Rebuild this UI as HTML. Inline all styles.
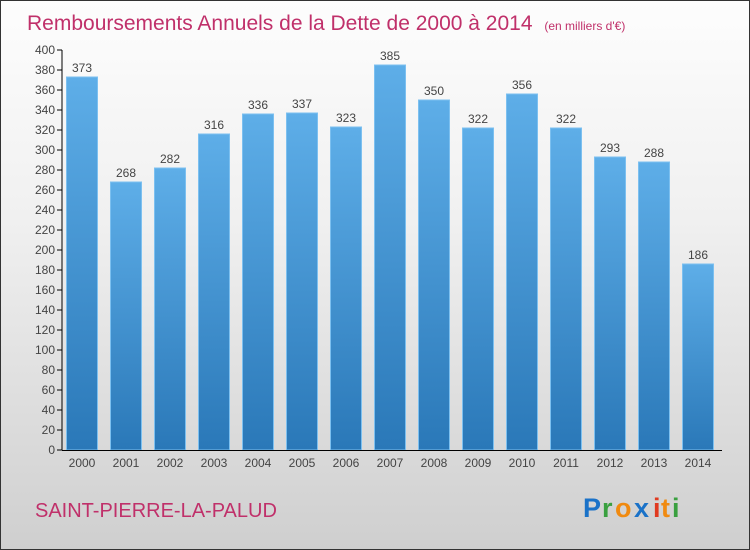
<!DOCTYPE html>
<html><head><meta charset="utf-8"><style>
body{margin:0}
#c{position:relative;width:748px;height:548px;border:1px solid #333;background:linear-gradient(#fdfdfd,#f0f0f0 40%,#cfcfcf);font-family:"Liberation Sans",sans-serif;overflow:hidden}
</style></head><body>
<div id="c">
<svg width="748" height="548">
<text x="26" y="29" font-size="21" fill="#c0306a">Remboursements Annuels de la Dette de 2000 à 2014 <tspan font-size="12" dx="6">(en milliers d'€)</tspan></text>
<g id="plot"></g>
<text x="34" y="516" font-size="20" fill="#c0306a">SAINT-PIERRE-LA-PALUD</text>
<g font-size="27" font-weight="bold">
<text x="582" y="516" fill="#1a72c8">P</text><text x="601" y="516" fill="#3aa040">r</text><text x="614" y="516" fill="#f08a10">o</text><text x="633" y="516" fill="#1a72c8">x</text><text x="652" y="516" fill="#e03a20">i</text><text x="660" y="516" fill="#f08a10">t</text><text x="671" y="516" fill="#3aa040">i</text>
</g>
</svg>
</div>
<script>
const categories=["2000","2001","2002","2003","2004","2005","2006","2007","2008","2009","2010","2011","2012","2013","2014"];
const values=[373,268,282,316,336,337,323,385,350,322,356,322,293,288,186];
const ticks=[0,20,40,60,80,100,120,140,160,180,200,220,240,260,280,300,320,340,360,380,400];
const NS="http://www.w3.org/2000/svg";
const g=document.getElementById("plot");
const y0=449,ymax=400,ph=400,x0=81,step=44,bw=31;
const yS=v=>y0-v/ymax*ph, xS=i=>x0+i*step;
function mk(t,a){const e=document.createElementNS(NS,t);for(const k in a)e.setAttribute(k,a[k]);g.appendChild(e);return e;}
const defs=mk("defs",{});
defs.innerHTML='<linearGradient id="bg" x1="0" y1="0" x2="0" y2="1"><stop offset="0" stop-color="#5eaee8"/><stop offset="1" stop-color="#2a78b8"/></linearGradient>';
ticks.forEach(t=>{
 const l=mk("line",{x1:56,x2:61,y1:yS(t),y2:yS(t),stroke:"#000"});
 
 
 const tx=mk("text",{x:54,y:yS(t)+4,"text-anchor":"end","font-size":12,fill:"#444"});
 tx.textContent=t;
 
 
});
values.forEach((v,i)=>{
 const r=mk("rect",{x:xS(i)-bw/2,y:yS(v),width:bw,height:y0-yS(v),fill:"url(#bg)",stroke:"#7cc0f0","stroke-width":1});
 
 
 const vt=mk("text",{x:xS(i),y:yS(v)-5,"text-anchor":"middle","font-size":12,fill:"#444"});
 vt.textContent=v;
 
 
 const ct=mk("text",{x:xS(i),y:466,"text-anchor":"middle","font-size":12,fill:"#444"});
 ct.textContent=categories[i];
 
 
});
const ya=mk("line",{x1:61,x2:61,y1:49,y2:y0,stroke:"#000"});


const xa=mk("line",{x1:61,x2:721,y1:y0+0.5,y2:y0+0.5,stroke:"#000"});


</script>
</body></html>
